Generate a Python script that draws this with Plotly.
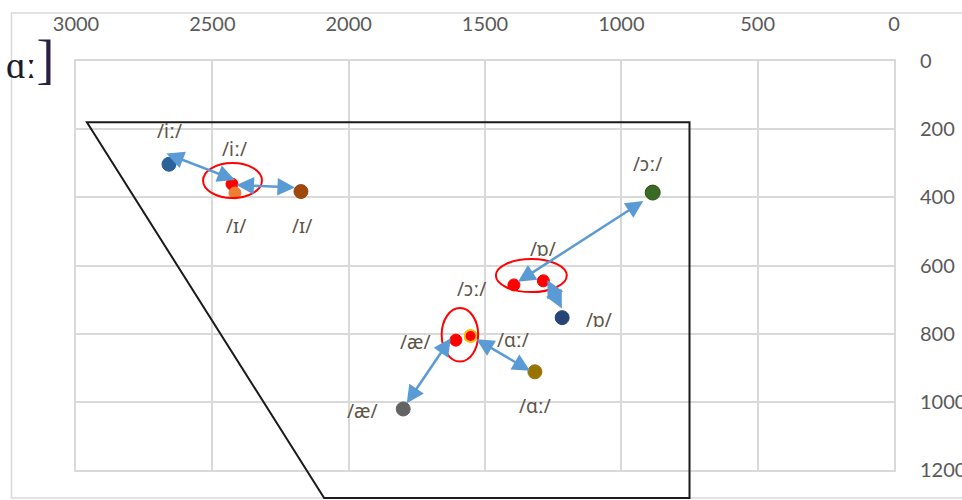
import plotly.graph_objects as go

# ---- data (F2 on x, F1 on y, Hz) ----
vowel_labels = ["/iː/", "/iː/", "/ɪ/", "/ɪ/", "/ɔː/", "/ɔː/", "/ɒ/", "/ɒ/", "/æ/", "/æ/", "/ɑː/", "/ɑː/"]
F2 = [2659, 2428, 2417, 2175, 885, 1394, 1286, 1217, 1607, 1800, 1553, 1317]
F1 = [303, 361, 387, 383, 386, 657, 645, 753, 819, 1021, 807, 912]

# arrows between paired vowels (start -> end)
arrow_from_F2 = [2674, 2417, 914, 1274, 1622, 1537]
arrow_from_F1 = [270, 364, 408, 638, 809, 814]
arrow_to_F2 = [2417, 2197, 1379, 1218, 1787, 1335]
arrow_to_F1 = [349, 371, 648, 726, 1004, 909]

# red ellipses around grouped vowels (F2 left, F2 right, F1 top, F1 bottom)
ellipse_F2_a = [2534, 1460, 1659]
ellipse_F2_b = [2318, 1200, 1525]
ellipse_F1_a = [299, 581, 725]
ellipse_F1_b = [402, 678, 882]

# vowel trapezoid corners
trap_F2 = [2960, 750, 750, 2090]
trap_F1 = [180, 180, 1282, 1282]

x_ticks = [3000, 2500, 2000, 1500, 1000, 500, 0]
y_ticks = [0, 200, 400, 600, 800, 1000, 1200]

# ---- styles ----
marker_colors = ["#2b6399", "#ff0000", "#ed7d31", "#9e480e", "#3b6a25", "#ff0000",
                 "#ff0000", "#264478", "#ff0000", "#636363", "#ff0000", "#997300"]
marker_lines = ["#2b6399", "#ff0000", "#ed7d31", "#9e480e", "#2c5119", "#ff0000",
                "#ff0000", "#264478", "#ff0000", "#636363", "#ffc000", "#997300"]
marker_sizes = [14, 12, 12, 14, 15, 12, 12, 14, 12, 14, 12, 14]
label_shift = [(1, 33), (3, 35), (1, -33), (1, -34), (-5, 29), (-42, -4),
               (0, 32), (37, -2), (-40, -2), (-41, -2), (42, -4), (0, -34)]

X_RANGE = [3000, 0]
Y_RANGE = [1200, 0]


def ypaper(v):
    return (Y_RANGE[0] - v) / (Y_RANGE[0] - Y_RANGE[1])


fig = go.Figure()

for i in range(len(F2)):
    fig.add_trace(go.Scatter(
        x=[F2[i]], y=[F1[i]], mode="markers",
        marker=dict(size=marker_sizes[i], color=marker_colors[i],
                    line=dict(color=marker_lines[i], width=2 if i == 10 else 1)),
        hoverinfo="skip", showlegend=False, cliponaxis=False,
    ))

annotations = []
for i, lab in enumerate(vowel_labels):
    dx, dy = label_shift[i]
    annotations.append(dict(
        x=F2[i], y=F1[i], xref="x", yref="y", text=lab, showarrow=False,
        xshift=dx, yshift=dy,
        font=dict(family="Noto Sans, DejaVu Sans", size=19, color="#5e5448"),
    ))

for k in range(len(arrow_from_F2)):
    annotations.append(dict(
        x=arrow_to_F2[k], y=arrow_to_F1[k], ax=arrow_from_F2[k], ay=arrow_from_F1[k],
        xref="x", yref="y", axref="x", ayref="y", text="", showarrow=True,
        arrowhead=2, startarrowhead=2, arrowside="end+start",
        arrowsize=1.4, startarrowsize=1.4, arrowwidth=2.5, arrowcolor="#5b9bd5",
    ))

# clipped IPA glyph in the top-left corner
annotations.append(dict(x=(4 - 76) / 818, y=(470 - 60) / 409, xref="paper", yref="paper",
                        xanchor="left", yanchor="middle",
                        text="ɑː<span style='font-size:54px;color:#2a2040'>]</span>", showarrow=False,
                        font=dict(family="Liberation Serif", size=38, color="#1b1b2a")))

shapes = []
# outer chart border
shapes.append(dict(type="rect", xref="paper", yref="paper",
                   x0=(11.5 - 76) / 818, x1=(975 - 76) / 818,
                   y0=(470 - 498) / 409, y1=(470 - 13) / 409,
                   line=dict(color="#d9d9d9", width=1.5), layer="below"))
# trapezoid
path = "M " + " L ".join(f"{trap_F2[j]},{ypaper(trap_F1[j])}" for j in range(len(trap_F2))) + " Z"
shapes.append(dict(type="path", xref="x", yref="paper", path=path,
                   line=dict(color="#1a1a1a", width=2), layer="above"))
for k in range(len(ellipse_F2_a)):
    shapes.append(dict(type="circle", xref="x", yref="y",
                       x0=ellipse_F2_a[k], x1=ellipse_F2_b[k],
                       y0=ellipse_F1_a[k], y1=ellipse_F1_b[k],
                       line=dict(color="#ff0000", width=2)))

tickfont = dict(family="Lato, Open Sans", size=20, color="#595959")
fig.update_layout(
    width=962, height=500, autosize=False,
    margin=dict(l=76, r=68, t=61, b=30, autoexpand=False),
    paper_bgcolor="white", plot_bgcolor="white",
    xaxis=dict(range=X_RANGE, side="top", tickvals=x_ticks, ticktext=[str(v) for v in x_ticks],
               showgrid=True, gridcolor="#d9d9d9", gridwidth=2, zeroline=False,
               showline=True, linecolor="#d9d9d9", linewidth=2, mirror=True, automargin=False,
               ticks="", tickfont=tickfont, ticklabelstandoff=20),
    yaxis=dict(range=Y_RANGE, side="right", tickvals=y_ticks, ticktext=[str(v) for v in y_ticks],
               showgrid=True, gridcolor="#d9d9d9", gridwidth=2, zeroline=False,
               showline=True, linecolor="#d9d9d9", linewidth=2, mirror=True, automargin=False,
               ticks="", tickfont=tickfont, ticklabelstandoff=20),
    annotations=annotations, shapes=shapes,
)

fig.write_html("out.html", config={"responsive": False, "displayModeBar": False},
               post_script="document.body.style.margin='0';document.body.style.overflow='hidden';")
